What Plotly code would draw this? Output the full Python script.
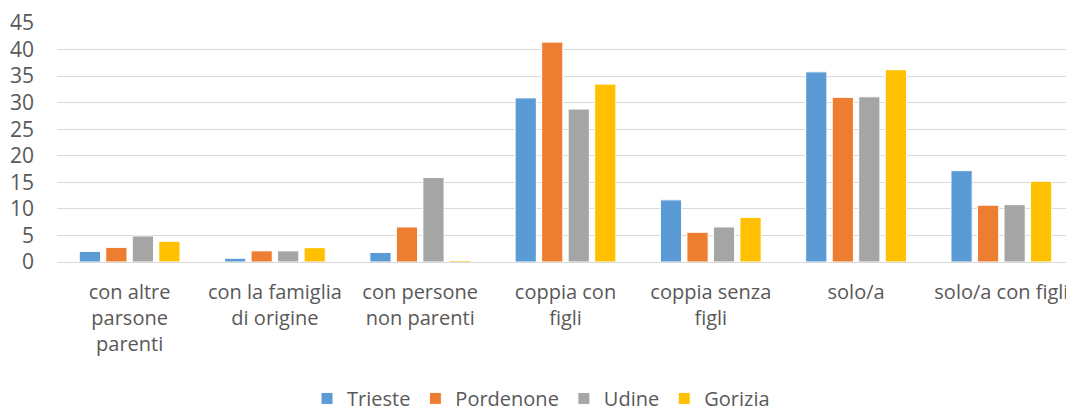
import plotly.graph_objects as go

categories = ["con altre<br>parsone<br>parenti", "con la famiglia<br>di origine", "con persone<br>non parenti",
              "coppia con<br>figli", "coppia senza<br>figli", "solo/a", "solo/a con figli"]
trieste = [2.0, 0.7, 1.8, 30.9, 11.7, 35.8, 17.2]
pordenone = [2.75, 2.1, 6.6, 41.4, 5.6, 31.0, 10.7]
udine = [4.9, 2.1, 15.9, 28.8, 6.6, 31.1, 10.8]
gorizia = [3.9, 2.7, 0.3, 33.5, 8.4, 36.2, 15.2]
series_names = ["Trieste", "Pordenone", "Udine", "Gorizia"]
colors = ["#5B9BD5", "#ED7D31", "#A5A5A5", "#FFC000"]
y_ticks = [0, 5, 10, 15, 20, 25, 30, 35, 40, 45]

FONT = "Open Sans, sans-serif"

fig = go.Figure()
for name, vals, col in zip(series_names, [trieste, pordenone, udine, gorizia], colors):
    fig.add_trace(go.Bar(x=categories, y=vals, name=name,
                         marker=dict(color=col, line=dict(color="white", width=1))))

# page body has an 8px default margin: figure sized/offset to compensate
fig.update_layout(
    width=1066, height=405,
    margin=dict(l=49, r=0, t=15, b=150.5, autoexpand=False),
    plot_bgcolor="white", paper_bgcolor="white",
    barmode="group", bargap=0.27, bargroupgap=0.2,
    font=dict(family=FONT, size=21, color="#595959"),
    showlegend=True,
    legend=dict(orientation="h", x=0.5, xanchor="center", xref="container",
                y=0.036, yanchor="middle", yref="container",
                font=dict(size=20, color="#595959"), traceorder="normal",
                itemwidth=30),
    xaxis=dict(showgrid=False, showline=False, ticks="", tickangle=0, automargin=False,
               ticklabelstandoff=16, tickfont=dict(size=20, color="#595959")),
    yaxis=dict(range=[0, 45], tickvals=y_ticks, showgrid=True, gridcolor="#D9D9D9", gridwidth=1.3,
               zeroline=True, zerolinecolor="#D9D9D9", zerolinewidth=1.3, showline=False,
               automargin=False,
               ticklabelstandoff=22, tickfont=dict(size=21, color="#595959")),
)

fig.write_html("out.html")
